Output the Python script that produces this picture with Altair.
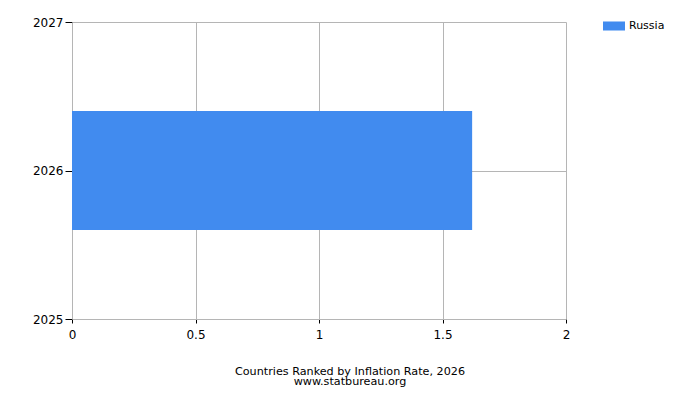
import altair as alt
import pandas as pd

countries = ["Russia"]
years = [2026]
inflation = [1.62]

x_ticks = [0, 0.5, 1, 1.5, 2]
y_ticks = [2025, 2026, 2027]

df = pd.DataFrame({"country": countries, "year": years, "rate": inflation})

FONT = "DejaVu Sans"
GRID = "#b5b5b5"

chart = alt.Chart(df).mark_bar(orient="horizontal", size=119).encode(
    x=alt.X("rate:Q",
            scale=alt.Scale(domain=[0, 2], nice=False, zero=True, padding=0),
            axis=alt.Axis(values=x_ticks, format="~g", title=None, tickSize=4, labelPadding=6,
                          labelFontSize=12, labelFont=FONT, labelColor="#000000",
                          tickColor="#000000", domainColor=GRID, gridColor=GRID,
                          labelFlush=False, labelOverlap=False)),
    y=alt.Y("year:Q",
            scale=alt.Scale(domain=[y_ticks[0], y_ticks[-1]], nice=False, zero=False, padding=0),
            axis=alt.Axis(tickCount=len(y_ticks) - 1, tickMinStep=1, format="d", title=None,
                          tickSize=7, labelPadding=2,
                          labelFontSize=12, labelFont=FONT, labelColor="#000000",
                          tickColor="#000000", domainColor=GRID, gridColor=GRID,
                          labelFlush=False, labelOverlap=False)),
    color=alt.Color("country:N",
                    scale=alt.Scale(domain=countries, range=["#418BEF"]),
                    legend=alt.Legend(title=None, orient="none", legendX=531, legendY=-7,
                                      symbolType="M-1,-0.41H1V0.41H-1Z", symbolSize=484,
                                      symbolStrokeWidth=0, labelFontSize=11, labelFont=FONT,
                                      labelColor="#000000", padding=0, labelOffset=4)),
).properties(
    width=494,
    height=297,
    title=alt.TitleParams(
        text=["Countries Ranked by Inflation Rate, 2026", "www.statbureau.org"],
        orient="bottom", anchor="middle", dx=31, offset=26,
        fontSize=11.2, font=FONT, fontWeight="normal", color="#000000", lineHeight=10,
    ),
    autosize=alt.AutoSizeParams(type="none"),
    padding={"left": 64, "top": 14, "right": 126, "bottom": 73},
).configure_view(
    stroke=None
).configure_axis(
    gridWidth=1, domainWidth=1, tickWidth=1
)

chart.save("out.html", embed_options={"renderer": "svg", "actions": False})
